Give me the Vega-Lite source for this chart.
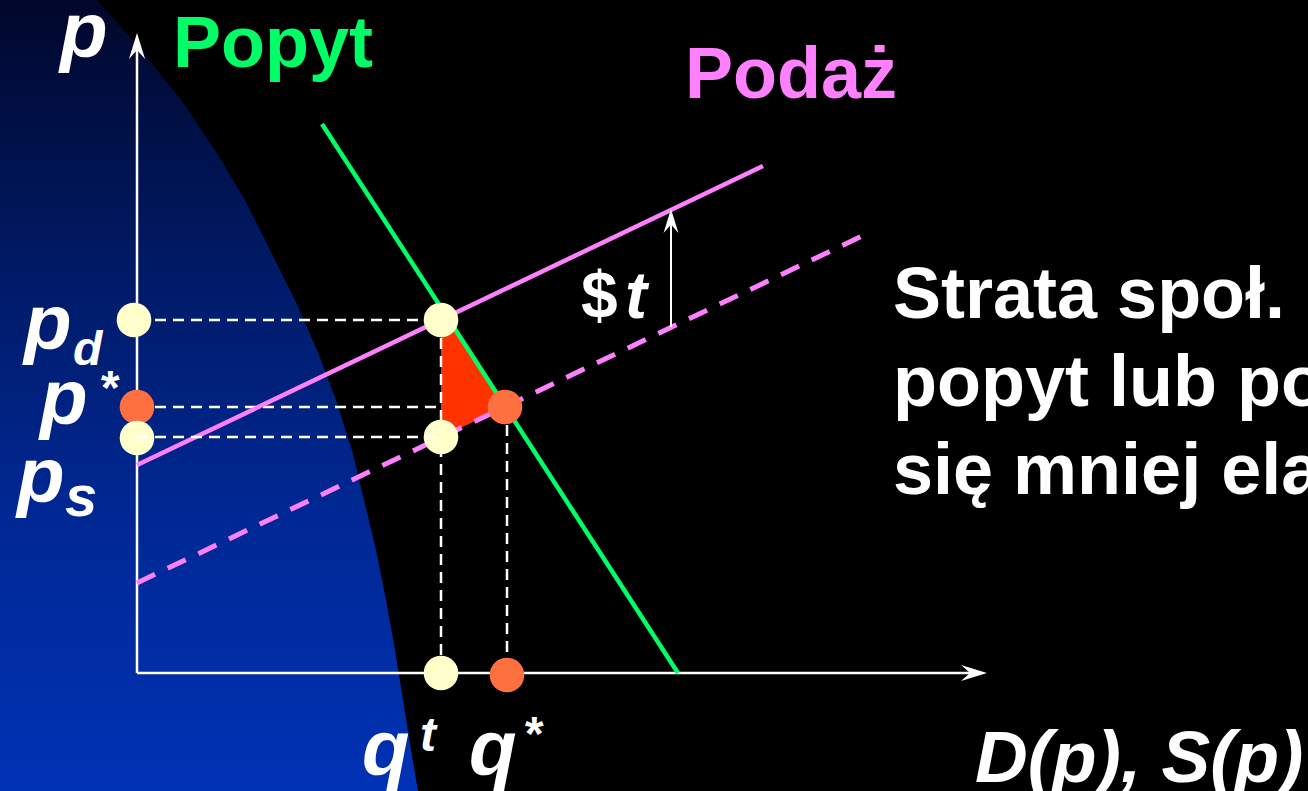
{
  "$schema": "https://vega.github.io/schema/vega-lite/v6.json",
  "width": 1308,
  "height": 791,
  "autosize": {"type": "none"},
  "padding": 0,
  "background": "#000000",
  "config": {"view": {"stroke": null}},
  "datasets": {
    "bg": [
      {"q": -40, "p": 673}, {"q": 4, "p": 623}, {"q": 44, "p": 573}, {"q": 78, "p": 523},
      {"q": 108, "p": 473}, {"q": 133, "p": 423}, {"q": 158, "p": 373}, {"q": 180, "p": 323},
      {"q": 199, "p": 273}, {"q": 215, "p": 223}, {"q": 227, "p": 173}, {"q": 239, "p": 123},
      {"q": 249, "p": 73}, {"q": 258, "p": 23}, {"q": 266, "p": -27}, {"q": 274, "p": -77},
      {"q": 281, "p": -118}
    ],
    "lines": [
      {"kind": "axis", "q1": 0, "p1": 0, "q2": 0, "p2": 630},
      {"kind": "axis", "q1": 0, "p1": 0, "q2": 840, "p2": 0},
      {"kind": "guide", "q1": 0, "p1": 353, "q2": 304, "p2": 353},
      {"kind": "guide", "q1": 0, "p1": 266, "q2": 304, "p2": 266},
      {"kind": "guide", "q1": 304, "p1": 353, "q2": 304, "p2": 0},
      {"kind": "guide", "q1": 370, "p1": 266, "q2": 370, "p2": 0},
      {"kind": "guideTop", "q1": 0, "p1": 236, "q2": 304, "p2": 236},
      {"kind": "demand", "q1": 185, "p1": 549, "q2": 541, "p2": 0},
      {"kind": "supply", "q1": 0, "p1": 208, "q2": 626, "p2": 507},
      {"kind": "supplyTax", "q1": 0, "p1": 90, "q2": 725, "p2": 437},
      {"kind": "tax", "q1": 534, "p1": 346, "q2": 534, "p2": 452}
    ],
    "loss": [
      {"q": 304, "top": 365, "bot": 236},
      {"q": 368, "top": 266, "bot": 266}
    ],
    "heads": [
      {"kind": "axisUp", "q": 0, "p": 640},
      {"kind": "axisRight", "q": 850, "p": 0},
      {"kind": "tax", "q": 534, "p": 464}
    ],
    "dots": [
      {"kind": "orange", "q": 0, "p": 266},
      {"kind": "orange", "q": 368, "p": 266},
      {"kind": "orange", "q": 370, "p": -2},
      {"kind": "cream", "q": -3, "p": 353},
      {"kind": "cream", "q": 0, "p": 235},
      {"kind": "cream", "q": 304, "p": 353},
      {"kind": "cream", "q": 304, "p": 236},
      {"kind": "cream", "q": 304, "p": 0}
    ],
    "labels": [
      {"kind": "big", "label": "p", "q": -77, "p": 616},
      {"kind": "big", "label": "p", "q": -113, "p": 324},
      {"kind": "big", "label": "p", "q": -97, "p": 249},
      {"kind": "big", "label": "p", "q": -120, "p": 171},
      {"kind": "big", "label": "q", "q": 225, "p": -102},
      {"kind": "big", "label": "q", "q": 332, "p": -102},
      {"kind": "axisname", "label": "D(p), S(p)", "q": 838, "p": -109},
      {"kind": "small", "label": "d", "q": -64, "p": 308},
      {"kind": "small", "label": "*", "q": -38, "p": 269},
      {"kind": "small", "label": "t", "q": 283, "p": -78},
      {"kind": "small", "label": "*", "q": 386, "p": -77},
      {"kind": "sub", "label": "s", "q": -72, "p": 157},
      {"kind": "popyt", "label": "Popyt", "q": 36, "p": 606},
      {"kind": "podaz", "label": "Podaż", "q": 548, "p": 575},
      {"kind": "note", "label": "Strata społ. maleje, gdy", "q": 756, "p": 355},
      {"kind": "note", "label": "popyt lub podaż staje", "q": 756, "p": 267},
      {"kind": "note", "label": "się mniej elastyczny.", "q": 756, "p": 179},
      {"kind": "dollar", "label": "$", "q": 444, "p": 355},
      {"kind": "taxt", "label": "t", "q": 488, "p": 355}
    ]
  },
  "layer": [
    {
      "data": {"name": "bg"},
      "mark": {
        "type": "area",
        "orient": "horizontal",
        "fill": {
          "gradient": "linear", "x1": 0, "y1": 0, "x2": 0, "y2": 1,
          "stops": [
            {"offset": 0, "color": "#00072A"},
            {"offset": 0.3, "color": "#001860"},
            {"offset": 0.65, "color": "#002894"},
            {"offset": 1, "color": "#0032B5"}
          ]
        }
      },
      "encoding": {
        "y": {"field": "p", "type": "quantitative", "scale": {"domain": [-118, 673], "nice": false, "zero": false}, "axis": null},
        "x": {"field": "q", "type": "quantitative", "scale": {"domain": [-137, 1171], "nice": false, "zero": false}, "axis": null},
        "x2": {"datum": -137}
      }
    },
    {
      "data": {"name": "loss"},
      "mark": {"type": "area", "color": "#FF3300", "opacity": 1},
      "encoding": {
        "x": {"field": "q", "type": "quantitative", "scale": {"domain": [-137, 1171], "nice": false, "zero": false}, "axis": null},
        "y": {"field": "top", "type": "quantitative", "scale": {"domain": [-118, 673], "nice": false, "zero": false}, "axis": null},
        "y2": {"field": "bot"}
      }
    },
    {
      "data": {"name": "lines"},
      "transform": [{"filter": "datum.kind == 'axis'"}],
      "mark": {"type": "rule", "color": "#FFFFFF", "strokeWidth": 2.5},
      "encoding": {
        "x": {"field": "q1", "type": "quantitative", "scale": {"domain": [-137, 1171], "nice": false, "zero": false}, "axis": null},
        "y": {"field": "p1", "type": "quantitative", "scale": {"domain": [-118, 673], "nice": false, "zero": false}, "axis": null},
        "x2": {"field": "q2"},
        "y2": {"field": "p2"}
      }
    },
    {
      "data": {"name": "lines"},
      "transform": [{"filter": "datum.kind == 'guide'"}],
      "mark": {"type": "rule", "color": "#FFFFFF", "strokeWidth": 2.5, "strokeDash": [11, 7]},
      "encoding": {
        "x": {"field": "q1", "type": "quantitative", "scale": {"domain": [-137, 1171], "nice": false, "zero": false}, "axis": null},
        "y": {"field": "p1", "type": "quantitative", "scale": {"domain": [-118, 673], "nice": false, "zero": false}, "axis": null},
        "x2": {"field": "q2"},
        "y2": {"field": "p2"}
      }
    },
    {
      "data": {"name": "lines"},
      "transform": [{"filter": "datum.kind == 'demand'"}],
      "mark": {"type": "rule", "color": "#00FF66", "strokeWidth": 4.5},
      "encoding": {
        "x": {"field": "q1", "type": "quantitative", "scale": {"domain": [-137, 1171], "nice": false, "zero": false}, "axis": null},
        "y": {"field": "p1", "type": "quantitative", "scale": {"domain": [-118, 673], "nice": false, "zero": false}, "axis": null},
        "x2": {"field": "q2"},
        "y2": {"field": "p2"}
      }
    },
    {
      "data": {"name": "lines"},
      "transform": [{"filter": "datum.kind == 'supply'"}],
      "mark": {"type": "rule", "color": "#FF80FF", "strokeWidth": 4.5},
      "encoding": {
        "x": {"field": "q1", "type": "quantitative", "scale": {"domain": [-137, 1171], "nice": false, "zero": false}, "axis": null},
        "y": {"field": "p1", "type": "quantitative", "scale": {"domain": [-118, 673], "nice": false, "zero": false}, "axis": null},
        "x2": {"field": "q2"},
        "y2": {"field": "p2"}
      }
    },
    {
      "data": {"name": "lines"},
      "transform": [{"filter": "datum.kind == 'supplyTax'"}],
      "mark": {"type": "rule", "color": "#FF80FF", "strokeWidth": 5, "strokeDash": [20, 14]},
      "encoding": {
        "x": {"field": "q1", "type": "quantitative", "scale": {"domain": [-137, 1171], "nice": false, "zero": false}, "axis": null},
        "y": {"field": "p1", "type": "quantitative", "scale": {"domain": [-118, 673], "nice": false, "zero": false}, "axis": null},
        "x2": {"field": "q2"},
        "y2": {"field": "p2"}
      }
    },
    {
      "data": {"name": "lines"},
      "transform": [{"filter": "datum.kind == 'tax'"}],
      "mark": {"type": "rule", "color": "#FFFFFF", "strokeWidth": 2},
      "encoding": {
        "x": {"field": "q1", "type": "quantitative", "scale": {"domain": [-137, 1171], "nice": false, "zero": false}, "axis": null},
        "y": {"field": "p1", "type": "quantitative", "scale": {"domain": [-118, 673], "nice": false, "zero": false}, "axis": null},
        "x2": {"field": "q2"},
        "y2": {"field": "p2"}
      }
    },
    {
      "data": {"name": "heads"},
      "transform": [{"filter": "datum.kind == 'axisUp'"}],
      "mark": {"type": "point", "shape": "M0,0L0.62,2L0,1.3L-0.62,2Z", "size": 676, "filled": true, "color": "#FFFFFF", "opacity": 1, "strokeWidth": 0},
      "encoding": {
        "x": {"field": "q", "type": "quantitative", "scale": {"domain": [-137, 1171], "nice": false, "zero": false}, "axis": null},
        "y": {"field": "p", "type": "quantitative", "scale": {"domain": [-118, 673], "nice": false, "zero": false}, "axis": null}
      }
    },
    {
      "data": {"name": "heads"},
      "transform": [{"filter": "datum.kind == 'axisRight'"}],
      "mark": {"type": "point", "shape": "M0,0L0.62,2L0,1.3L-0.62,2Z", "size": 676, "angle": 90, "filled": true, "color": "#FFFFFF", "opacity": 1, "strokeWidth": 0},
      "encoding": {
        "x": {"field": "q", "type": "quantitative", "scale": {"domain": [-137, 1171], "nice": false, "zero": false}, "axis": null},
        "y": {"field": "p", "type": "quantitative", "scale": {"domain": [-118, 673], "nice": false, "zero": false}, "axis": null}
      }
    },
    {
      "data": {"name": "heads"},
      "transform": [{"filter": "datum.kind == 'tax'"}],
      "mark": {"type": "point", "shape": "M0,0L0.62,2L0,1.3L-0.62,2Z", "size": 576, "filled": true, "color": "#FFFFFF", "opacity": 1, "strokeWidth": 0},
      "encoding": {
        "x": {"field": "q", "type": "quantitative", "scale": {"domain": [-137, 1171], "nice": false, "zero": false}, "axis": null},
        "y": {"field": "p", "type": "quantitative", "scale": {"domain": [-118, 673], "nice": false, "zero": false}, "axis": null}
      }
    },
    {
      "data": {"name": "dots"},
      "transform": [{"filter": "datum.kind == 'orange'"}],
      "mark": {"type": "circle", "size": 1200, "color": "#FF7040", "opacity": 1},
      "encoding": {
        "x": {"field": "q", "type": "quantitative", "scale": {"domain": [-137, 1171], "nice": false, "zero": false}, "axis": null},
        "y": {"field": "p", "type": "quantitative", "scale": {"domain": [-118, 673], "nice": false, "zero": false}, "axis": null}
      }
    },
    {
      "data": {"name": "dots"},
      "transform": [{"filter": "datum.kind == 'cream'"}],
      "mark": {"type": "circle", "size": 1200, "color": "#FFFFCC", "opacity": 1},
      "encoding": {
        "x": {"field": "q", "type": "quantitative", "scale": {"domain": [-137, 1171], "nice": false, "zero": false}, "axis": null},
        "y": {"field": "p", "type": "quantitative", "scale": {"domain": [-118, 673], "nice": false, "zero": false}, "axis": null}
      }
    },
    {
      "data": {"name": "lines"},
      "transform": [{"filter": "datum.kind == 'guideTop'"}],
      "mark": {"type": "rule", "color": "#FFFFFF", "strokeWidth": 2.5, "strokeDash": [11, 7]},
      "encoding": {
        "x": {"field": "q1", "type": "quantitative", "scale": {"domain": [-137, 1171], "nice": false, "zero": false}, "axis": null},
        "y": {"field": "p1", "type": "quantitative", "scale": {"domain": [-118, 673], "nice": false, "zero": false}, "axis": null},
        "x2": {"field": "q2"},
        "y2": {"field": "p2"}
      }
    },
    {
      "data": {"name": "labels"},
      "transform": [{"filter": "datum.kind == 'big'"}],
      "mark": {"type": "text", "font": "Liberation Sans", "fontSize": 78, "fontWeight": "bold", "fontStyle": "italic", "color": "#FFFFFF", "align": "left", "baseline": "alphabetic"},
      "encoding": {
        "x": {"field": "q", "type": "quantitative", "scale": {"domain": [-137, 1171], "nice": false, "zero": false}, "axis": null},
        "y": {"field": "p", "type": "quantitative", "scale": {"domain": [-118, 673], "nice": false, "zero": false}, "axis": null},
        "text": {"field": "label"}
      }
    },
    {
      "data": {"name": "labels"},
      "transform": [{"filter": "datum.kind == 'axisname'"}],
      "mark": {"type": "text", "font": "Liberation Sans", "fontSize": 73, "fontWeight": "bold", "fontStyle": "italic", "color": "#FFFFFF", "align": "left", "baseline": "alphabetic"},
      "encoding": {
        "x": {"field": "q", "type": "quantitative", "scale": {"domain": [-137, 1171], "nice": false, "zero": false}, "axis": null},
        "y": {"field": "p", "type": "quantitative", "scale": {"domain": [-118, 673], "nice": false, "zero": false}, "axis": null},
        "text": {"field": "label"}
      }
    },
    {
      "data": {"name": "labels"},
      "transform": [{"filter": "datum.kind == 'small'"}],
      "mark": {"type": "text", "font": "Liberation Sans", "fontSize": 48, "fontWeight": "bold", "fontStyle": "italic", "color": "#FFFFFF", "align": "left", "baseline": "alphabetic"},
      "encoding": {
        "x": {"field": "q", "type": "quantitative", "scale": {"domain": [-137, 1171], "nice": false, "zero": false}, "axis": null},
        "y": {"field": "p", "type": "quantitative", "scale": {"domain": [-118, 673], "nice": false, "zero": false}, "axis": null},
        "text": {"field": "label"}
      }
    },
    {
      "data": {"name": "labels"},
      "transform": [{"filter": "datum.kind == 'sub'"}],
      "mark": {"type": "text", "font": "Liberation Sans", "fontSize": 58, "fontWeight": "bold", "fontStyle": "italic", "color": "#FFFFFF", "align": "left", "baseline": "alphabetic"},
      "encoding": {
        "x": {"field": "q", "type": "quantitative", "scale": {"domain": [-137, 1171], "nice": false, "zero": false}, "axis": null},
        "y": {"field": "p", "type": "quantitative", "scale": {"domain": [-118, 673], "nice": false, "zero": false}, "axis": null},
        "text": {"field": "label"}
      }
    },
    {
      "data": {"name": "labels"},
      "transform": [{"filter": "datum.kind == 'popyt'"}],
      "mark": {"type": "text", "font": "Liberation Sans", "fontSize": 72, "fontWeight": "bold", "color": "#00FF66", "align": "left", "baseline": "alphabetic"},
      "encoding": {
        "x": {"field": "q", "type": "quantitative", "scale": {"domain": [-137, 1171], "nice": false, "zero": false}, "axis": null},
        "y": {"field": "p", "type": "quantitative", "scale": {"domain": [-118, 673], "nice": false, "zero": false}, "axis": null},
        "text": {"field": "label"}
      }
    },
    {
      "data": {"name": "labels"},
      "transform": [{"filter": "datum.kind == 'podaz'"}],
      "mark": {"type": "text", "font": "Liberation Sans", "fontSize": 72, "fontWeight": "bold", "color": "#FF80FF", "align": "left", "baseline": "alphabetic"},
      "encoding": {
        "x": {"field": "q", "type": "quantitative", "scale": {"domain": [-137, 1171], "nice": false, "zero": false}, "axis": null},
        "y": {"field": "p", "type": "quantitative", "scale": {"domain": [-118, 673], "nice": false, "zero": false}, "axis": null},
        "text": {"field": "label"}
      }
    },
    {
      "data": {"name": "labels"},
      "transform": [{"filter": "datum.kind == 'note'"}],
      "mark": {"type": "text", "font": "Liberation Sans", "fontSize": 72, "fontWeight": "bold", "color": "#FFFFFF", "align": "left", "baseline": "alphabetic"},
      "encoding": {
        "x": {"field": "q", "type": "quantitative", "scale": {"domain": [-137, 1171], "nice": false, "zero": false}, "axis": null},
        "y": {"field": "p", "type": "quantitative", "scale": {"domain": [-118, 673], "nice": false, "zero": false}, "axis": null},
        "text": {"field": "label"}
      }
    },
    {
      "data": {"name": "labels"},
      "transform": [{"filter": "datum.kind == 'dollar'"}],
      "mark": {"type": "text", "font": "Liberation Sans", "fontSize": 66, "fontWeight": "bold", "color": "#FFFFFF", "align": "left", "baseline": "alphabetic"},
      "encoding": {
        "x": {"field": "q", "type": "quantitative", "scale": {"domain": [-137, 1171], "nice": false, "zero": false}, "axis": null},
        "y": {"field": "p", "type": "quantitative", "scale": {"domain": [-118, 673], "nice": false, "zero": false}, "axis": null},
        "text": {"field": "label"}
      }
    },
    {
      "data": {"name": "labels"},
      "transform": [{"filter": "datum.kind == 'taxt'"}],
      "mark": {"type": "text", "font": "Liberation Sans", "fontSize": 66, "fontWeight": "bold", "fontStyle": "italic", "color": "#FFFFFF", "align": "left", "baseline": "alphabetic"},
      "encoding": {
        "x": {"field": "q", "type": "quantitative", "scale": {"domain": [-137, 1171], "nice": false, "zero": false}, "axis": null},
        "y": {"field": "p", "type": "quantitative", "scale": {"domain": [-118, 673], "nice": false, "zero": false}, "axis": null},
        "text": {"field": "label"}
      }
    }
  ]
}
